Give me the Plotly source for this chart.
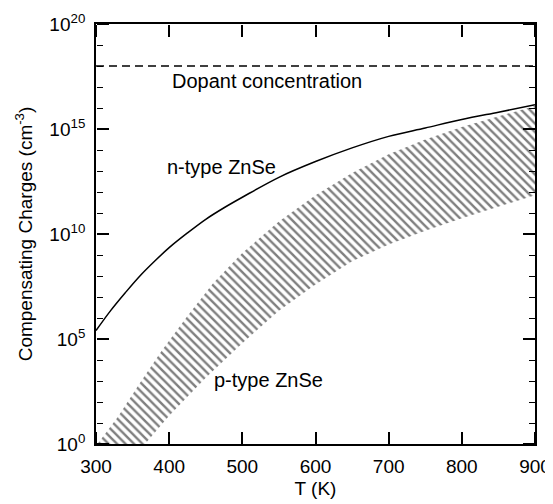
import plotly.graph_objects as go

# 温度 (K) 和补偿电荷 (log10, cm^-3)
n_type_T = [300, 320, 340, 360, 380, 400, 425, 450, 475, 500, 550, 600, 650, 700, 750, 800, 850, 900]
n_type_log = [5.4, 6.35, 7.2, 8.0, 8.7, 9.35, 10.05, 10.7, 11.25, 11.75, 12.7, 13.45, 14.1, 14.65, 15.05, 15.45, 15.8, 16.15]

# p-type 阴影区上边界
p_upper_T = [302, 330, 360, 390, 425, 460, 500, 550, 600, 650, 700, 750, 800, 850, 900]
p_upper_log = [0.0, 1.3, 2.9, 4.45, 6.1, 7.65, 9.1, 10.6, 11.85, 12.9, 13.8, 14.5, 15.1, 15.6, 16.1]

# p-type 阴影区下边界
p_lower_T = [367, 400, 450, 500, 550, 600, 650, 700, 750, 800, 850, 900]
p_lower_log = [0.0, 1.35, 3.15, 4.8, 6.35, 7.6, 8.7, 9.5, 10.15, 10.75, 11.3, 11.85]

dopant_T = [300, 900]
dopant_log = [18, 18]

y_ticks = [0, 5, 10, 15, 20]
y_minor = list(range(21))
x_ticks = [300, 400, 500, 600, 700, 800, 900]

FONT = 'Liberation Sans'
BLACK = 'black'

fig = go.Figure()

# 阴影区: 上边界正向 + 下边界反向, 闭合
shade_T = p_upper_T + p_lower_T[::-1]
shade_log = p_upper_log + p_lower_log[::-1]
fig.add_trace(go.Scatter(
    x=shade_T,
    y=[10.0 ** v for v in shade_log],
    mode='lines',
    line=dict(width=0, color=BLACK),
    fill='toself',
    fillcolor='rgba(0,0,0,0)',
    fillpattern=dict(shape='\\', size=6, solidity=0.4, fgcolor=BLACK),
    hoverinfo='skip',
    showlegend=False
))

fig.add_trace(go.Scatter(
    x=n_type_T,
    y=[10.0 ** v for v in n_type_log],
    mode='lines',
    line=dict(color=BLACK, width=1.5, shape='spline'),
    showlegend=False
))

fig.add_trace(go.Scatter(
    x=dopant_T,
    y=[10.0 ** v for v in dopant_log],
    mode='lines',
    line=dict(color=BLACK, width=1.5, dash='8px,5px'),
    showlegend=False
))

# 内向刻度: 用对侧的 free 轴画 outside 刻度, 每个轴挂一条透明线
for xa, ya in [('x2', 'y'), ('x3', 'y'), ('x', 'y2'), ('x', 'y3')]:
    fig.add_trace(go.Scatter(
        x=dopant_T,
        y=[10.0 ** v for v in dopant_log],
        xaxis=xa, yaxis=ya,
        mode='lines',
        line=dict(width=0, color='rgba(0,0,0,0)'),
        hoverinfo='skip',
        showlegend=False
    ))

# 图内文字
labels = [
    (401, 17.27, 'Dopant concentration'),
    (394, 13.18, 'n-type ZnSe'),
    (458, 3.03, 'p-type ZnSe'),
]
for t, v, txt in labels:
    fig.add_annotation(x=t, y=v, text=txt, showarrow=False, xanchor='left', yanchor='middle',
                       font=dict(family=FONT, size=20, color=BLACK))

tick_x = dict(
    range=[300, 900], tickmode='array', tickvals=x_ticks,
    ticks='outside', ticklen=12, tickwidth=1.5, tickcolor=BLACK,
    showticklabels=False, showline=False, showgrid=False, zeroline=False,
    overlaying='x', anchor='free', automargin=False
)
tick_y = dict(
    type='log', range=[0, 20], tickmode='array',
    tickvals=[10.0 ** v for v in y_ticks],
    ticks='outside', ticklen=12, tickwidth=1.5, tickcolor=BLACK,
    minor=dict(tickmode='array', tickvals=[10.0 ** v for v in y_minor], ticks='outside',
               ticklen=6, tickwidth=1.2, tickcolor=BLACK, showgrid=False),
    showticklabels=False, showline=False, showgrid=False, zeroline=False,
    overlaying='y', anchor='free', automargin=False
)

# 页面 body 自带 8px 边距, 尺寸相应缩小
fig.update_layout(
    width=545, height=496,
    margin=dict(l=88, r=18, t=16, b=60),
    plot_bgcolor='white',
    paper_bgcolor='white',
    showlegend=False,
    xaxis=dict(
        range=[300, 900], tickmode='array', tickvals=x_ticks, ticks='',
        showline=True, linecolor=BLACK, linewidth=1.8, mirror=True,
        showgrid=False, zeroline=False, automargin=False, ticklabelstandoff=4,
        title=dict(text='T (K)', font=dict(family=FONT, size=19, color=BLACK), standoff=6),
        tickfont=dict(family=FONT, size=19, color=BLACK)
    ),
    xaxis2=dict(side='top', position=0, **tick_x),
    xaxis3=dict(side='bottom', position=1, **tick_x),
    yaxis=dict(
        type='log', range=[0, 20], tickmode='array',
        tickvals=[10.0 ** v for v in y_ticks],
        ticktext=['10<sup>%d</sup>' % v for v in y_ticks], ticks='',
        showline=True, linecolor=BLACK, linewidth=1.8, mirror=True,
        showgrid=False, zeroline=False, automargin=False, ticklabelstandoff=5,
        title=dict(text='Compensating Charges (cm<sup>-3</sup>)',
                   font=dict(family=FONT, size=19, color=BLACK), standoff=12),
        tickfont=dict(family=FONT, size=19, color=BLACK)
    ),
    yaxis2=dict(side='right', position=0, **tick_y),
    yaxis3=dict(side='left', position=1, **tick_y),
)

fig.write_html("out.html")
